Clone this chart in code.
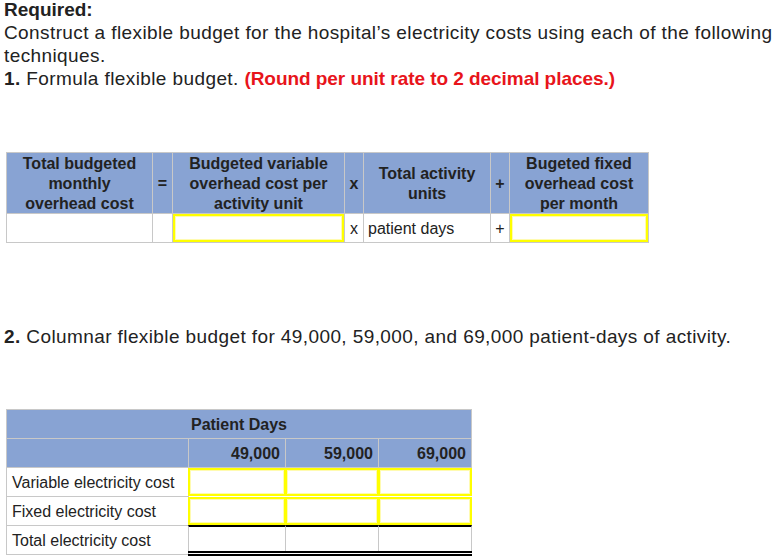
<!DOCTYPE html>
<html><head><meta charset="utf-8">
<script src="https://cdn.jsdelivr.net/npm/chart.js@4.4.1/dist/chart.umd.min.js"></script>
<style>
html,body{margin:0;padding:0;background:#fff;width:775px;height:560px;overflow:hidden;}
body{font-family:"Liberation Sans",Arial,sans-serif;color:#222;position:relative;}
.t{position:absolute;white-space:nowrap;font-size:19px;letter-spacing:0.4px;}
.b{font-weight:bold;}
.red{color:#e8141b;font-weight:bold;letter-spacing:-0.05px;}
.cell{position:absolute;box-sizing:border-box;border:1px solid #c8c8c8;font-size:16px;display:flex;align-items:center;justify-content:center;text-align:center;line-height:20px;padding-top:1px;}
.hd{background:#88a3d3;font-weight:bold;color:#222;}
.inp{position:absolute;box-sizing:border-box;border:2px solid #ffff00;box-shadow:inset 0 0 0 1px #fffbb0;background:#fff;}
</style></head><body>
<div id="root"></div>
<script>
const introLines = ["Required:", "Construct a flexible budget for the hospital\u2019s electricity costs using each of the following", "techniques."];
const part1Text = ["1.", "Formula flexible budget.", "(Round per unit rate to 2 decimal places.)"];
const part2Text = ["2.", "Columnar flexible budget for 49,000, 59,000, and 69,000 patient-days of activity."];
const formulaHeaders = ["Total budgeted<br>monthly<br>overhead cost", "=", "Budgeted variable<br>overhead cost per<br>activity unit", "x", "Total activity<br>units", "+", "Bugeted fixed<br>overhead cost<br>per month"];
const formulaRow = ["", "", "", "x", "patient days", "+", ""];
const groupHeader = "Patient Days";
const activityLevels = ["49,000", "59,000", "69,000"];
const rowLabels = ["Variable electricity cost", "Fixed electricity cost", "Total electricity cost"];

const root = document.getElementById('root');
function add(html){ root.insertAdjacentHTML('beforeend', html); }

add(`<div class="t b" style="left:4px;top:-1px;letter-spacing:0;">${introLines[0]}</div>`);
add(`<div class="t" style="left:4px;top:22px;">${introLines[1]}</div>`);
add(`<div class="t" style="left:4px;top:45px;">${introLines[2]}</div>`);
add(`<div class="t" style="left:4px;top:68px;"><b>${part1Text[0]}</b> ${part1Text[1]} <span class="red">${part1Text[2]}</span></div>`);
add(`<div class="t" style="left:4px;top:326px;"><b>${part2Text[0]}</b> ${part2Text[1]}</div>`);

// table 1
const c1 = [6,152,172,344,363,490,509,648];
for(let i=0;i<7;i++){
  const x=c1[i], w=c1[i+1]-c1[i]+1;
  add(`<div class="cell hd" style="left:${x}px;top:152px;width:${w}px;height:62px;">${formulaHeaders[i]}</div>`);
  const txt = formulaRow[i];
  const align = i===4 ? 'justify-content:flex-start;padding-left:4px;' : '';
  add(`<div class="cell" style="left:${x}px;top:213px;width:${w}px;height:30px;${align}">${txt}</div>`);
}
add(`<div class="inp" style="left:173px;top:214px;width:171px;height:28px;"></div>`);
add(`<div class="inp" style="left:510px;top:214px;width:138px;height:28px;"></div>`);

// table 2
const c2 = [6,188,285,378,471];
add(`<div class="cell hd" style="left:6px;top:409px;width:466px;height:30px;">${groupHeader}</div>`);
add(`<div class="cell hd" style="left:6px;top:438px;width:183px;height:30px;"></div>`);
for(let j=0;j<3;j++){
  const x=c2[j+1], w=c2[j+2]-c2[j+1]+1;
  add(`<div class="cell hd" style="left:${x}px;top:438px;width:${w}px;height:30px;justify-content:flex-end;padding-right:5px;">${activityLevels[j]}</div>`);
}
const rowTops=[467,496,525];
for(let r=0;r<3;r++){
  const y=rowTops[r];
  add(`<div class="cell" style="left:6px;top:${y}px;width:183px;height:30px;justify-content:flex-start;padding-left:5px;">${rowLabels[r]}</div>`);
  for(let j=0;j<3;j++){
    const x=c2[j+1], w=c2[j+2]-c2[j+1]+1;
    if(r<2){
      add(`<div class="inp" style="left:${x}px;top:${y+1}px;width:${w}px;height:28px;"></div>`);
    } else {
      add(`<div class="cell" style="left:${x}px;top:${y}px;width:${w}px;height:28px;border-top:2px solid #000;border-bottom:none;"></div>`);
    }
  }
}
add(`<div style="position:absolute;left:188px;top:551px;width:284px;height:1px;border-top:2px solid #000;border-bottom:2px solid #000;"></div>`);
</script>
</body></html>
